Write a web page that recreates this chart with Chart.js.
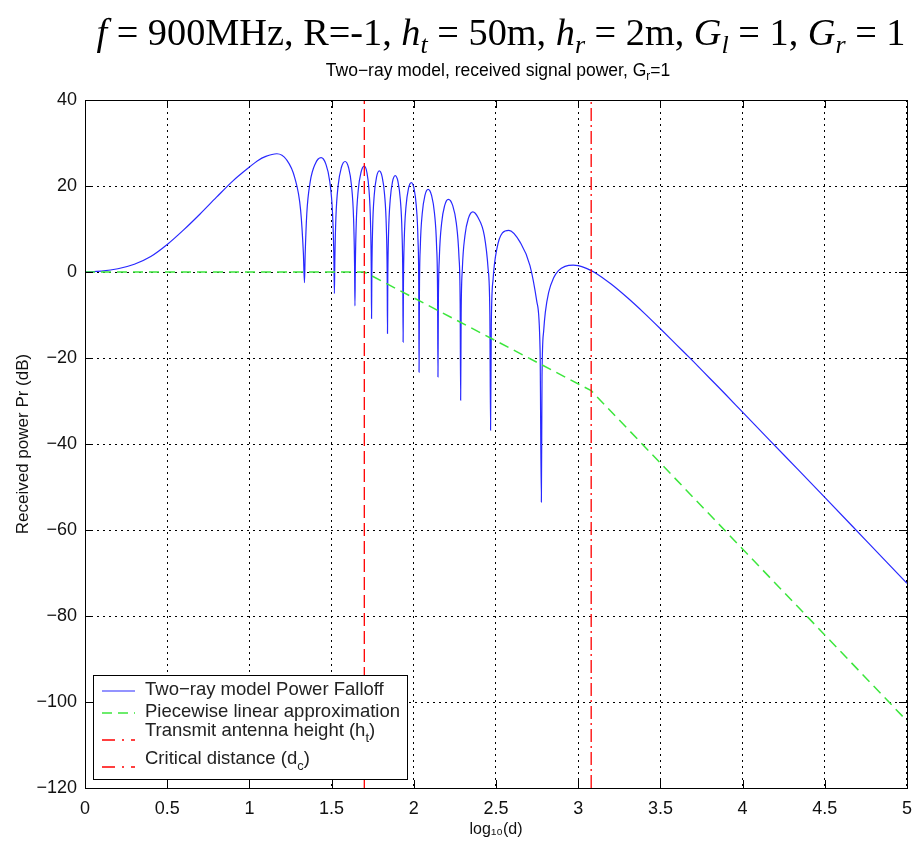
<!DOCTYPE html>
<html>
<head>
<meta charset="utf-8">
<script src="https://cdn.jsdelivr.net/npm/chart.js@4.4.1/dist/chart.umd.min.js"></script>
<style>
  html, body { margin: 0; padding: 0; background: #fff; }
  #wrap { position: relative; width: 922px; height: 846px; overflow: hidden; }
  #chart { position: absolute; left: 0; top: 0; }
  #title {
    position: absolute; left: 0; top: 10px; width: 1002px; text-align: center;
    font-family: 'Liberation Serif', 'DejaVu Serif', serif; font-size: 38.3px;
    line-height: 44px; white-space: nowrap; color: #000;
  }
  #subtitle {
    position: absolute; left: 0; top: 60px; width: 996px; text-align: center;
    font-family: 'Liberation Sans', Arial, sans-serif; font-size: 17.5px;
    line-height: 20px; white-space: nowrap; color: #000;
  }
  sub { font-size: 0.68em; line-height: 0; vertical-align: -0.3em; }
</style>
</head>
<body>
<div id="wrap">
  <canvas id="chart" width="922" height="846"></canvas>
  <div id="title"><i>f</i> = 900MHz, R=-1, <i>h</i><sub><i>t</i></sub> = 50m, <i>h</i><sub><i>r</i></sub> = 2m, <i>G</i><sub><i>l</i></sub> = 1, <i>G</i><sub><i>r</i></sub> = 1</div>
  <div id="subtitle">Two&minus;ray model, received signal power, G<sub>r</sub>=1</div>
</div>
<script>
// axis ticks
const xTicks = [0, 0.5, 1, 1.5, 2, 2.5, 3, 3.5, 4, 4.5, 5];
const yTicks = [40, 20, 0, -20, -40, -60, -80, -100, -120];

// two-ray curve (x = log10(d), y = dB)
const twoRayLogD = [
  0, 0.1, 0.2, 0.3, 0.4, 0.5, 0.6, 0.7, 0.8, 0.9, 1.0, 1.05, 1.1, 1.167,
  1.226, 1.276, 1.3115, 1.3283, 1.335,
  1.339, 1.349, 1.370, 1.401, 1.436, 1.464, 1.489, 1.506, 1.514, 1.517,
  1.5196, 1.5261, 1.5398, 1.5593, 1.582, 1.603, 1.621, 1.6336, 1.6396, 1.642,
  1.6443, 1.650, 1.662, 1.679, 1.699, 1.7144, 1.7276, 1.7368, 1.7412, 1.743,
  1.7449, 1.7496, 1.7594, 1.7736, 1.790, 1.8075, 1.8225, 1.833, 1.838, 1.840,
  1.8419, 1.8466, 1.8565, 1.8706, 1.887, 1.9038, 1.9182, 1.9283, 1.9331, 1.935,
  1.937, 1.942, 1.9525, 1.9675, 1.985, 2.0015, 2.0156, 2.0254, 2.0301, 2.032,
  2.0342, 2.0397, 2.0513, 2.0678, 2.087, 2.108, 2.126, 2.1386, 2.1446, 2.147,
  2.1495, 2.1558, 2.1691, 2.188, 2.210, 2.2363, 2.2588, 2.2745, 2.282, 2.285,
  2.288, 2.2954, 2.3109, 2.3331, 2.359, 2.3916, 2.4292, 2.4519, 2.4627, 2.467,
  2.4714, 2.4825, 2.5059, 2.5392, 2.578, 2.6473, 2.7067, 2.7483, 2.7681, 2.776,
  2.78, 2.79, 2.80, 2.82, 2.85, 2.88, 2.92, 2.97, 3.0, 3.05, 3.1, 3.2, 3.3, 3.4,
  3.5, 3.6, 3.7, 3.8, 3.9, 4.0, 4.25, 4.5, 4.75, 5.0
];
const twoRayDb = [
  0, 0.2, 0.75, 1.8, 3.6, 6.4, 9.8, 13.5, 17.4, 21.2, 24.4, 25.9, 26.9, 27.5,
  26.1, 21.9, 14.4, 4.4, -2.5,
  3.7, 13.5, 21.0, 25.2, 26.6, 25.2, 21.0, 13.4, 3.3, -5.0,
  2.5, 12.6, 20.1, 24.3, 25.7, 24.3, 20.1, 12.5, 2.1, -7.9,
  1.1, 11.4, 19.0, 23.2, 24.6, 23.2, 19.0, 11.4, 0.9, -10.8,
  -0.2, 10.3, 17.9, 22.1, 23.5, 22.1, 17.9, 10.3, -0.4, -14.3,
  -1.4, 9.2, 16.8, 21.0, 22.4, 21.0, 16.8, 9.2, -1.5, -16.3,
  -3.0, 7.6, 15.2, 19.4, 20.8, 19.4, 15.2, 7.6, -3.2, -23.3,
  -4.8, 6.0, 13.6, 17.8, 19.2, 17.8, 13.6, 6.0, -4.8, -24.4,
  -7.1, 3.7, 11.3, 15.5, 16.9, 15.5, 11.3, 3.7, -7.1, -29.8,
  -10.0, 0.8, 8.4, 12.6, 14.0, 12.6, 8.4, 0.8, -10.0, -36.8,
  -12.4, -1.6, 5.5, 9.1, 9.7, 6.9, 1.5, -6.9, -18.1, -53.5,
  -24.2, -13.7, -9.4, -4.8, -1.4, 0.3, 1.3, 1.6, 1.5, 0.85, -0.1, -2.8, -6.0, -9.5,
  -13.2, -17.0, -20.8, -24.7, -28.6, -32.6, -42.5, -52.4, -62.4, -72.4
];

// piecewise linear approximation
const approxLogD = [0, 1.699, 3.079, 5];
const approxDb = [0, 0, -27.6, -104.4];

// vertical markers
const heightLogD = 1.699;   // log10(ht)
const criticalLogD = 3.079; // log10(dc)

const seriesNames = [
  'Two\u2212ray model Power Falloff',
  'Piecewise linear approximation',
  'Transmit antenna height (h_t)',
  'Critical distance (d_c)'
];

const FONT = '"Liberation Sans", Arial, Helvetica, sans-serif';

function toPoints(xs, ys) {
  return xs.map((x, i) => ({ x: x, y: ys[i] }));
}

function vline(x) {
  return [{ x: x, y: yTicks[yTicks.length - 1] }, { x: x, y: yTicks[0] }];
}

// text with "_c" style subscripts
function drawSubText(ctx, text, x, y, size) {
  const parts = text.split(/_(\w)/);
  parts.forEach((part, i) => {
    const isSub = i % 2 === 1;
    ctx.font = (isSub ? size * 0.7 : size) + 'px ' + FONT;
    ctx.fillText(part, x, isSub ? y + size * 0.4 : y);
    x += ctx.measureText(part).width;
  });
}

// closed box with inward ticks, like the original axes
const axesBox = {
  id: 'axesBox',
  afterDatasetsDraw(chart) {
    const { ctx, chartArea: a, scales } = chart;
    ctx.save();
    ctx.strokeStyle = '#000';
    ctx.lineWidth = 1;
    ctx.strokeRect(a.left + 0.5, a.top + 0.5, a.right - a.left, a.bottom - a.top);
    ctx.beginPath();
    scales.x.ticks.forEach(t => {
      const px = Math.round(scales.x.getPixelForValue(t.value)) + 0.5;
      ctx.moveTo(px, a.bottom); ctx.lineTo(px, a.bottom - 8);
      ctx.moveTo(px, a.top); ctx.lineTo(px, a.top + 8);
    });
    scales.y.ticks.forEach(t => {
      const py = Math.round(scales.y.getPixelForValue(t.value)) + 0.5;
      ctx.moveTo(a.left, py); ctx.lineTo(a.left + 8, py);
      ctx.moveTo(a.right, py); ctx.lineTo(a.right - 8, py);
    });
    ctx.stroke();
    ctx.restore();
  }
};

// legend box in the lower left of the plot
const boxLegend = {
  id: 'boxLegend',
  afterDraw(chart) {
    const ctx = chart.ctx;
    const left = 93, top = 675, w = 314, h = 104;
    const sampleY = [691, 713, 740, 767];
    const textY = [690, 712, 731, 759];
    ctx.save();
    ctx.fillStyle = '#fff';
    ctx.fillRect(left, top, w, h);
    ctx.strokeStyle = '#000';
    ctx.lineWidth = 1;
    ctx.strokeRect(left + 0.5, top + 0.5, w, h);
    chart.data.datasets.forEach((ds, i) => {
      ctx.strokeStyle = ds.borderColor;
      ctx.lineWidth = ds.borderWidth;
      ctx.setLineDash(ds.legendDash || ds.borderDash || []);
      ctx.beginPath();
      ctx.moveTo(102, sampleY[i]);
      ctx.lineTo(135, sampleY[i]);
      ctx.stroke();
      ctx.setLineDash([]);
      ctx.fillStyle = '#222';
      ctx.textBaseline = 'middle';
      ctx.textAlign = 'left';
      drawSubText(ctx, ds.label, 145, textY[i], 18.5);
    });
    ctx.restore();
  }
};

new Chart(document.getElementById('chart'), {
  type: 'line',
  data: {
    datasets: [
      {
        label: seriesNames[0],
        data: toPoints(twoRayLogD, twoRayDb),
        borderColor: 'rgb(40,40,255)',
        borderWidth: 1.2,
        pointRadius: 0,
        cubicInterpolationMode: 'monotone',
        order: 3
      },
      {
        label: seriesNames[1],
        data: toPoints(approxLogD, approxDb),
        borderColor: 'rgb(60,230,60)',
        borderWidth: 1.5,
        borderDash: [10, 6],
        pointRadius: 0,
        order: 2
      },
      {
        label: seriesNames[2],
        data: vline(heightLogD),
        borderColor: 'rgb(255,0,0)',
        borderWidth: 1.3,
        borderDash: [13, 5],
        legendDash: [13, 7, 2, 7],
        pointRadius: 0,
        order: 1
      },
      {
        label: seriesNames[3],
        data: vline(criticalLogD),
        borderColor: 'rgb(255,0,0)',
        borderWidth: 1.3,
        borderDash: [13, 4, 2, 4],
        legendDash: [13, 7, 2, 7],
        pointRadius: 0,
        order: 0
      }
    ]
  },
  options: {
    responsive: false,
    animation: false,
    layout: { padding: { top: 100, right: 12, left: 0, bottom: 0 } },
    plugins: {
      legend: { display: false },
      tooltip: { enabled: false }
    },
    scales: {
      x: {
        type: 'linear',
        min: 0,
        max: 5,
        afterBuildTicks: s => { s.ticks = xTicks.map(v => ({ value: v })); },
        afterFit: s => { s.height = 58; },
        ticks: {
          color: '#111',
          font: { family: FONT, size: 18 },
          padding: 10,
          maxRotation: 0,
          callback: v => String(v)
        },
        grid: { color: '#000', lineWidth: 1, drawTicks: false },
        border: { display: false, dash: [2, 4] },
        title: {
          display: true,
          text: 'log\u2081\u2080(d)',
          color: '#111',
          font: { family: FONT, size: 16 },
          padding: { top: 0, bottom: 7 }
        }
      },
      y: {
        min: -120,
        max: 40,
        afterBuildTicks: s => { s.ticks = yTicks.map(v => ({ value: v })); },
        afterFit: s => { s.width = 85; },
        ticks: {
          color: '#111',
          font: { family: FONT, size: 18 },
          padding: 8,
          callback: v => (v < 0 ? '\u2212' + Math.abs(v) : String(v))
        },
        grid: { color: '#000', lineWidth: 1, drawTicks: false },
        border: { display: false, dash: [2, 4] },
        title: {
          display: true,
          text: 'Received power Pr (dB)',
          color: '#111',
          font: { family: FONT, size: 17 },
          padding: { top: 13, bottom: 0 }
        }
      }
    }
  },
  plugins: [axesBox, boxLegend]
});
</script>
</body>
</html>
